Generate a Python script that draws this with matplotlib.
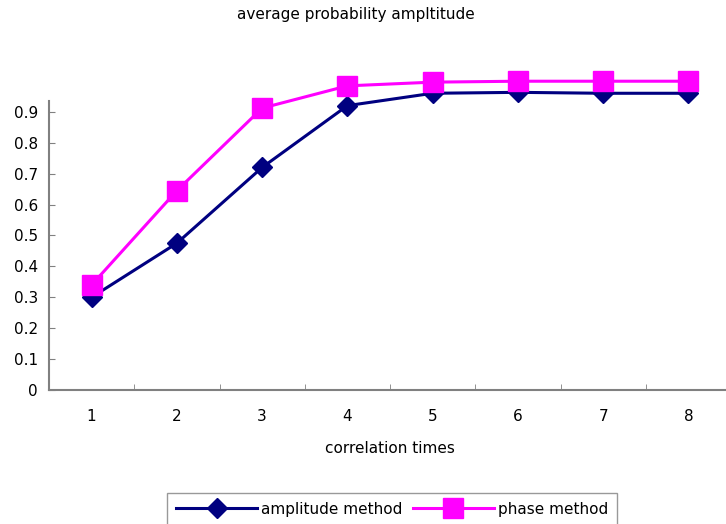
import numpy as np
import matplotlib.pyplot as plt

plt.rcParams['font.family'] = ['DejaVu Sans']

# data
times = [1, 2, 3, 4, 5, 6, 7, 8]
amplitude = [0.30, 0.475, 0.72, 0.92, 0.96, 0.963, 0.96, 0.96]
phase = [0.34, 0.645, 0.912, 0.984, 0.996, 0.999, 0.999, 0.999]
yticks = [0, 0.1, 0.2, 0.3, 0.4, 0.5, 0.6, 0.7, 0.8, 0.9]

fig = plt.figure(figsize=(7.26, 5.24), dpi=100)
ax = fig.add_axes([49/726, 134/524, 682/726, 289/524])

ax.plot(times, amplitude, color='#000080', lw=2.2, marker='D', ms=10,
        label='amplitude method', clip_on=False, zorder=3)
ax.plot(times, phase, color='#ff00ff', lw=2.2, marker='s', ms=14,
        label='phase method', clip_on=False, zorder=4)

ax.set_xlim(0.5, 8.5)
ax.set_ylim(0, 0.935)
ax.set_yticks(yticks)
ax.set_yticklabels(['0' if v == 0 else f'{v:.1f}' for v in yticks])
ax.set_xticks(times)
ax.set_xticks(np.arange(0.5, 9, 1), minor=True)
ax.tick_params(axis='x', which='major', length=0, pad=14, labelsize=11)
ax.tick_params(axis='x', which='minor', direction='in', length=4, color='#808080')
ax.tick_params(axis='y', direction='in', length=4, color='#808080', pad=8, labelsize=11)

for s in ['top', 'right']:
    ax.spines[s].set_visible(False)
for s in ['left', 'bottom']:
    ax.spines[s].set_color('#808080')
    ax.spines[s].set_linewidth(1.5)

ax.set_xlabel('correlation times', fontsize=11, labelpad=12)
fig.text(0.49, 0.973, 'average probability ampltitude', ha='center', va='center', fontsize=11)

leg = ax.legend(loc='upper center', bbox_to_anchor=(343/682, -0.355), ncol=2,
                frameon=True, fancybox=False, fontsize=11, handlelength=5.3,
                columnspacing=0.7, handletextpad=0.25, borderaxespad=0,
                borderpad=0.6)
leg.get_frame().set_edgecolor('#808080')
leg.get_frame().set_linewidth(1)

fig.savefig('out.png', dpi=100)
